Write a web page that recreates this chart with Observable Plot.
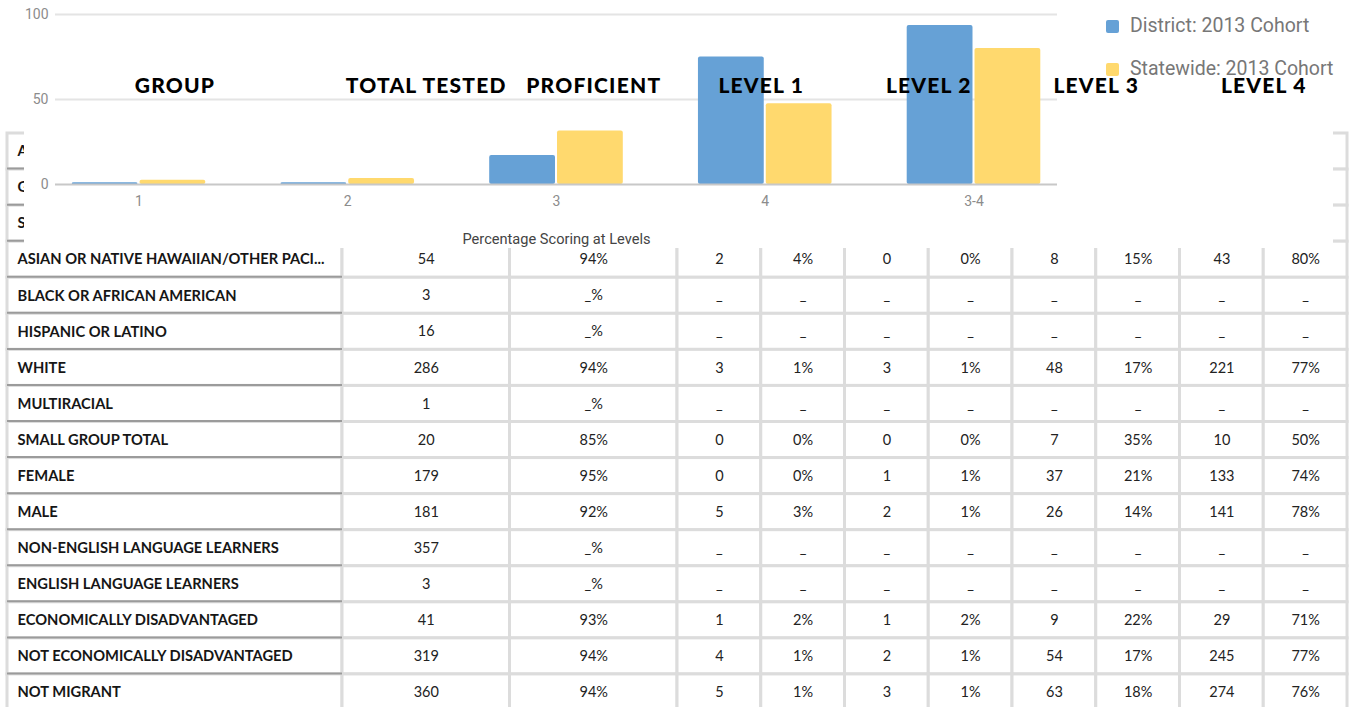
<!DOCTYPE html>
<html><head><meta charset="utf-8">
<script src="https://cdn.jsdelivr.net/npm/d3@7"></script>
<script src="https://cdn.jsdelivr.net/npm/@observablehq/plot@0.6"></script>
<style>
html,body{margin:0;padding:0;background:#fff;overflow:hidden;width:1352px;height:707px}
#wrap{position:relative;width:1352px;height:707px}
.layer{position:absolute;left:0;top:0}
#chartLayer{left:24px;top:0;background:#fff}
#hdrLayer{pointer-events:none}
.lg{position:absolute;display:flex;align-items:center;font-family:Roboto,sans-serif;font-size:19.5px;color:#777;white-space:nowrap;line-height:24px}
.lg span.sw{display:inline-block;width:13px;height:13px;border-radius:2px;margin-right:11px}
</style></head><body><div id="wrap"></div>
<script>
// ---------- chart data ----------
const levels = ["1", "2", "3", "4", "3-4"];
const seriesNames = ["District: 2013 Cohort", "Statewide: 2013 Cohort"];
const seriesColors = ["#66a1d6", "#ffd96e"];
const districtValues = [1, 1, 17, 75, 93.5];
const statewideValues = [2.5, 3.5, 31.5, 47.5, 80];
const yTicks = [0, 50, 100];
const axisTitle = "Percentage Scoring at Levels";

// ---------- table data ----------
const headers = ["GROUP", "TOTAL TESTED", "PROFICIENT", "LEVEL 1", "LEVEL 2", "LEVEL 3", "LEVEL 4"];
const groupLabels = ["ALL STUDENTS", "GENERAL EDUCATION", "STUDENTS WITH DISABILITIES",
  "ASIAN OR NATIVE HAWAIIAN/OTHER PACI...", "BLACK OR AFRICAN AMERICAN", "HISPANIC OR LATINO",
  "WHITE", "MULTIRACIAL", "SMALL GROUP TOTAL", "FEMALE", "MALE", "NON-ENGLISH LANGUAGE LEARNERS",
  "ENGLISH LANGUAGE LEARNERS", "ECONOMICALLY DISADVANTAGED", "NOT ECONOMICALLY DISADVANTAGED", "NOT MIGRANT"];
const totalTested = ["", "", "", "54", "3", "16", "286", "1", "20", "179", "181", "357", "3", "41", "319", "360"];
const proficient  = ["", "", "", "94%", "_%", "_%", "94%", "_%", "85%", "95%", "92%", "_%", "_%", "93%", "94%", "94%"];
const level1Count = ["", "", "", "2", "_", "_", "3", "_", "0", "0", "5", "_", "_", "1", "4", "5"];
const level1Pct   = ["", "", "", "4%", "_", "_", "1%", "_", "0%", "0%", "3%", "_", "_", "2%", "1%", "1%"];
const level2Count = ["", "", "", "0", "_", "_", "3", "_", "0", "1", "2", "_", "_", "1", "2", "3"];
const level2Pct   = ["", "", "", "0%", "_", "_", "1%", "_", "0%", "1%", "1%", "_", "_", "2%", "1%", "1%"];
const level3Count = ["", "", "", "8", "_", "_", "48", "_", "7", "37", "26", "_", "_", "9", "54", "63"];
const level3Pct   = ["", "", "", "15%", "_", "_", "17%", "_", "35%", "21%", "14%", "_", "_", "22%", "17%", "18%"];
const level4Count = ["", "", "", "43", "_", "_", "221", "_", "10", "133", "141", "_", "_", "29", "245", "274"];
const level4Pct   = ["", "", "", "80%", "_", "_", "77%", "_", "50%", "74%", "78%", "_", "_", "71%", "77%", "76%"];

// ---------- layout ----------
const colSpans = [4, 2, 2, 1, 1, 1, 1, 1, 1, 1, 1];
const headerSpans = [4, 2, 2, 2, 2, 2, 2];
const totalUnits = d3.sum(colSpans);
const colStarts = colSpans.map((s, i) => d3.sum(colSpans.slice(0, i)));
const headerStarts = headerSpans.map((s, i) => d3.sum(headerSpans.slice(0, i)));
const valueCols = [totalTested, proficient, level1Count, level1Pct, level2Count, level2Pct,
  level3Count, level3Pct, level4Count, level4Pct];

const wrap = document.getElementById("wrap");

// ---------- table layer ----------
const cells = [];
groupLabels.forEach((g, r) => {
  colSpans.forEach((s, c) => {
    cells.push({r, c, x1: colStarts[c], x2: colStarts[c] + s, text: c === 0 ? g : valueCols[c - 1][r]});
  });
});
const table = Plot.plot({
  width: 1352, height: 707, margin: 0,
  x: {domain: [0, totalUnits], range: [7, 1347], axis: null},
  y: {domain: [0, groupLabels.length], range: [133, 710], axis: null},
  style: {fontFamily: "Lato, sans-serif", background: "transparent", color: "#222"},
  marks: [
    Plot.rect(cells, {x1: "x1", x2: "x2", y1: "r", y2: d => d.r + 1, fill: "white", stroke: "#dcdcdc", strokeWidth: 3}),
    Plot.ruleY(groupLabels.map((g, r) => r + 1), {x1: 0, x2: colSpans[0], stroke: "#9b9b9b", strokeWidth: 2, dy: -1}),
    Plot.text(cells.filter(d => d.c === 0), {x: "x1", y: d => d.r + 0.5, text: "text", textAnchor: "start", dx: 10, fontWeight: 700, fontSize: 14.7, fill: "#161616"}),
    Plot.text(cells.filter(d => d.c > 0), {x: d => (d.x1 + d.x2) / 2, y: d => d.r + 0.5, text: "text", fontSize: 14.5, fill: "#222"})
  ]
});
table.classList.add("layer");
wrap.appendChild(table);

// ---------- chart layer ----------
const barData = levels.flatMap((l, i) => [
  {level: l, series: seriesNames[0], value: districtValues[i]},
  {level: l, series: seriesNames[1], value: statewideValues[i]}
]);
const chartDiv = document.createElement("div");
chartDiv.className = "layer";
chartDiv.id = "chartLayer";
const chart = Plot.plot({
  width: 1309, height: 248, marginLeft: 31, marginRight: 276, marginTop: 14, marginBottom: 64,
  style: {fontFamily: "Roboto, sans-serif", fontSize: "14px", background: "#fff", color: "#8c8c8c"},
  x: {domain: levels, paddingInner: 0.36, paddingOuter: 0.08, round: false, tickSize: 0, tickPadding: 12, label: null},
  y: {domain: [0, 100], ticks: yTicks, tickSize: 0, tickPadding: 7, label: null},
  color: {domain: seriesNames, range: seriesColors},
  marks: [
    Plot.ruleY(yTicks.filter(t => t > 0), {stroke: "#e4e4e4", strokeWidth: 2}),
    Plot.barY(barData.filter(d => d.series === seriesNames[0]), {x: "level", y: "value", fill: "series", insetRight: 67.8, rx: 2}),
    Plot.barY(barData.filter(d => d.series === seriesNames[1]), {x: "level", y: "value", fill: "series", insetLeft: 67.8, rx: 2}),
    Plot.ruleY([0], {stroke: "#c8c8c8", strokeWidth: 2}),
    Plot.text([axisTitle], {text: d => d, frameAnchor: "bottom", dy: 59, fill: "#444", fontSize: 14.6})
  ]
});
chartDiv.appendChild(chart);
// legend
seriesNames.forEach((name, i) => {
  const item = document.createElement("div");
  item.className = "lg";
  item.style.left = (1106 - 24) + "px";
  item.style.top = (14 + i * 43) + "px";
  const sw = document.createElement("span");
  sw.className = "sw";
  sw.style.background = seriesColors[i];
  item.appendChild(sw);
  item.appendChild(document.createTextNode(name));
  chartDiv.appendChild(item);
});
wrap.appendChild(chartDiv);

// ---------- header layer ----------
const headerCells = headers.map((h, i) => ({label: h, cx: headerStarts[i] + headerSpans[i] / 2}));
const hdr = Plot.plot({
  width: 1352, height: 110, margin: 0,
  x: {domain: [0, totalUnits], range: [7, 1347], axis: null},
  style: {fontFamily: "Lato, sans-serif", background: "transparent", letterSpacing: "1.2px"},
  marks: [
    Plot.text(headerCells, {x: "cx", frameAnchor: "top", dy: 78, text: "label", fontSize: 21, fontWeight: 900, fill: "#000"})
  ]
});
hdr.classList.add("layer");
hdr.id = "hdrLayer";
wrap.appendChild(hdr);
</script>
</body></html>
